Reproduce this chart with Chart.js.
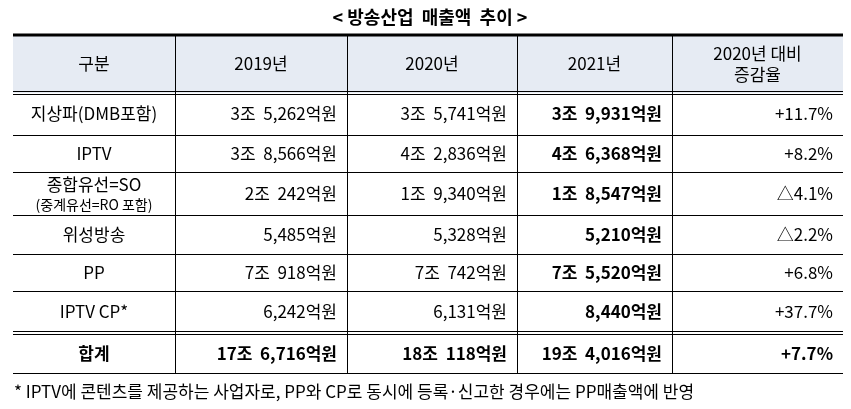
<!DOCTYPE html><html><head><meta charset="utf-8">
<script src="https://cdn.jsdelivr.net/npm/chart.js@4"></script>
<style>body{margin:0;background:#fff}</style></head><body>
<canvas id="c" width="851" height="409"></canvas>
<script>
const title = "< 방송산업  매출액  추이 >";
const headers = ["구분","2019년","2020년","2021년",["2020년 대비","증감율"]];
const categories = [["지상파(DMB포함)"],["IPTV"],["종합유선=SO","(중계유선=RO 포함)"],["위성방송"],["PP"],["IPTV CP*"],["합계"]];
const values2019 = ["3조  5,262억원","3조  8,566억원","2조  242억원","5,485억원","7조  918억원","6,242억원","17조  6,716억원"];
const values2020 = ["3조  5,741억원","4조  2,836억원","1조  9,340억원","5,328억원","7조  742억원","6,131억원","18조  118억원"];
const values2021 = ["3조  9,931억원","4조  6,368억원","1조  8,547억원","5,210억원","7조  5,520억원","8,440억원","19조  4,016억원"];
const changes = ["+11.7%","+8.2%","△4.1%","△2.2%","+6.8%","+37.7%","+7.7%"];
const footnote = "* IPTV에 콘텐츠를 제공하는 사업자로, PP와 CP로 동시에 등록·신고한 경우에는 PP매출액에 반영";

const colX=[13,175,347,517,672,843];
const rowY=[35,93,135,172,215,254,291,333,373];
const F="'Noto Sans CJK KR','Noto Sans',sans-serif";
const tablePlugin={id:'tbl',afterDraw(ch){
 const c=ch.ctx;c.save();
 c.fillStyle='#fff';c.fillRect(0,0,851,409);
 c.fillStyle='#000';c.textBaseline='middle';c.textAlign='center';
 c.font="bold 18px "+F;c.fillText(title,430,17);
 c.fillStyle='#e6ebf3';c.fillRect(colX[0],rowY[0],colX[5]-colX[0],rowY[1]-rowY[0]);
 c.strokeStyle='#000';
 c.lineWidth=3;c.beginPath();c.moveTo(colX[0],rowY[0]);c.lineTo(colX[5],rowY[0]);c.stroke();
 c.lineWidth=1;
 const hl=(y)=>{c.beginPath();c.moveTo(colX[0],y+0.5);c.lineTo(colX[5],y+0.5);c.stroke();};
 hl(rowY[1]-2);hl(rowY[1]+1);
 for(let i=2;i<7;i++)hl(rowY[i]);
 hl(rowY[7]-2);hl(rowY[7]+1);hl(rowY[8]);
 for(let i=1;i<5;i++){c.beginPath();c.moveTo(colX[i]+0.5,rowY[0]);c.lineTo(colX[i]+0.5,rowY[8]);c.stroke();}
 c.fillStyle='#000';
 c.font="17px "+F;
 headers.forEach((h,i)=>{const cx=(colX[i]+colX[i+1])/2,cy=(rowY[0]+rowY[1])/2;
  if(Array.isArray(h)){c.fillText(h[0],cx,cy-10);c.fillText(h[1],cx,cy+11);}else c.fillText(h,cx,cy);});
 for(let r=0;r<7;r++){
  const y0=r==6?rowY[7]+1:rowY[r+1],y1=r==6?rowY[8]:rowY[r+2];const cy=(y0+y1)/2;
  const tot=r==6;
  const cat=categories[r];const cx=(colX[0]+colX[1])/2;
  c.textAlign='center';
  if(cat.length>1){c.font=(tot?"bold ":"")+"17px "+F;c.fillText(cat[0],cx,cy-9);c.font="14px "+F;c.fillText(cat[1],cx,cy+11);}
  else{c.font=(tot?"bold ":"")+"17px "+F;c.fillText(cat[0],cx,cy);}
  c.textAlign='right';
  [values2019,values2020,values2021,changes].forEach((arr,k)=>{
   c.font=((tot||k==2)?"bold ":"")+"17px "+F;
   c.fillText(arr[r],colX[k+2]-10,cy);});
 }
 c.textAlign='left';c.font="17px "+F;c.fillText(footnote,14,392);
 c.restore();}};
new Chart(document.getElementById('c'),{type:'bar',data:{labels:categories.map(x=>x[0]),datasets:[{data:[],label:''}]},
 options:{responsive:false,animation:false,plugins:{legend:{display:false},tooltip:{enabled:false}},scales:{x:{display:false},y:{display:false}}},
 plugins:[tablePlugin]});
</script></body></html>
